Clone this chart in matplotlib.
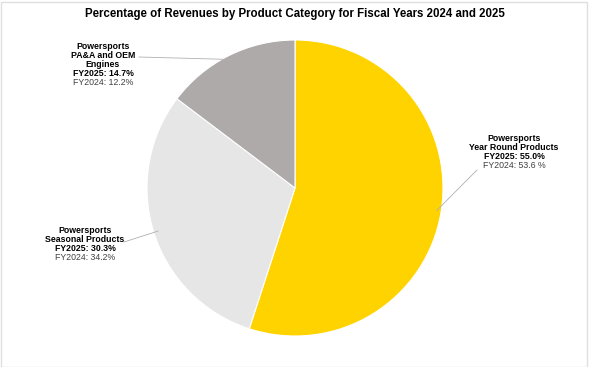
import matplotlib.pyplot as plt
import matplotlib.patches as mpatches
import numpy as np

plt.rcParams['font.family'] = ['Liberation Sans', 'DejaVu Sans']

categories = ['Powersports\nYear Round Products',
              'Powersports\nSeasonal Products',
              'Powersports\nPA&A and OEM\nEngines']
fy2025 = [55.0, 30.3, 14.7]
fy2024 = [53.6, 34.2, 12.2]
fy2024_fmt = ['{:.1f} %', '{:.1f}%', '{:.1f}%']
colors = ['#FFD300', '#E7E6E7', '#AEAAAA']

# label anchor (centre x, baseline of top line y) in pixels, and leader line start
label_px = [(514, 141), (85, 233), (103, 49)]
line_start_px = [(477, 170), (124, 242), (139, 57)]

W, H = 590, 367
cx, cy, R = 295, 188, 148

fig = plt.figure(figsize=(W / 100, H / 100), dpi=100)
ax = fig.add_axes([(cx - R) / W, (H - cy - R) / H, 2 * R / W, 2 * R / H])
wedges, _ = ax.pie(fy2025, colors=colors, startangle=90, counterclock=False,
                   wedgeprops=dict(edgecolor='white', linewidth=0.8))
ax.set_xlim(-1, 1)
ax.set_ylim(-1, 1)
ax.axis('off')


def to_data(px, py):
    return (px - cx) / R, (cy - py) / R


step = 9 / R
for i, w in enumerate(wedges):
    lines = categories[i].split('\n')
    x0, y0 = to_data(*label_px[i])
    y = y0
    for ln in lines:
        ax.text(x0, y, ln, ha='center', va='baseline', fontsize=6.3,
                fontweight='bold', color='black', clip_on=False)
        y -= step
    ax.text(x0, y, 'FY2025: {:.1f}%'.format(fy2025[i]), ha='center', va='baseline',
            fontsize=6.3, fontweight='bold', color='black', clip_on=False)
    y -= step
    ax.text(x0, y, 'FY2024: ' + fy2024_fmt[i].format(fy2024[i]), ha='center',
            va='baseline', fontsize=6.3, color='#404040', clip_on=False)
    ang = np.deg2rad((w.theta1 + w.theta2) / 2)
    ex, ey = 0.97 * np.cos(ang), 0.97 * np.sin(ang)
    sx, sy = to_data(*line_start_px[i])
    ax.plot([sx, ex], [sy, ey], color='#B0B0B0', lw=0.6, clip_on=False)

fig.text(cx / W, 1 - 14 / H,
         'Percentage of Revenues by Product Category for Fiscal Years 2024 and 2025',
         ha='center', va='center', fontsize=8.3, fontweight='bold')

fig.patches.append(mpatches.Rectangle((0.5 / W, 0.5 / H), 1 - 4 / W, 1 - 2 / H,
                                      transform=fig.transFigure, fill=False,
                                      edgecolor='#E0E0E0', lw=1))

fig.savefig('out.png', dpi=100)
